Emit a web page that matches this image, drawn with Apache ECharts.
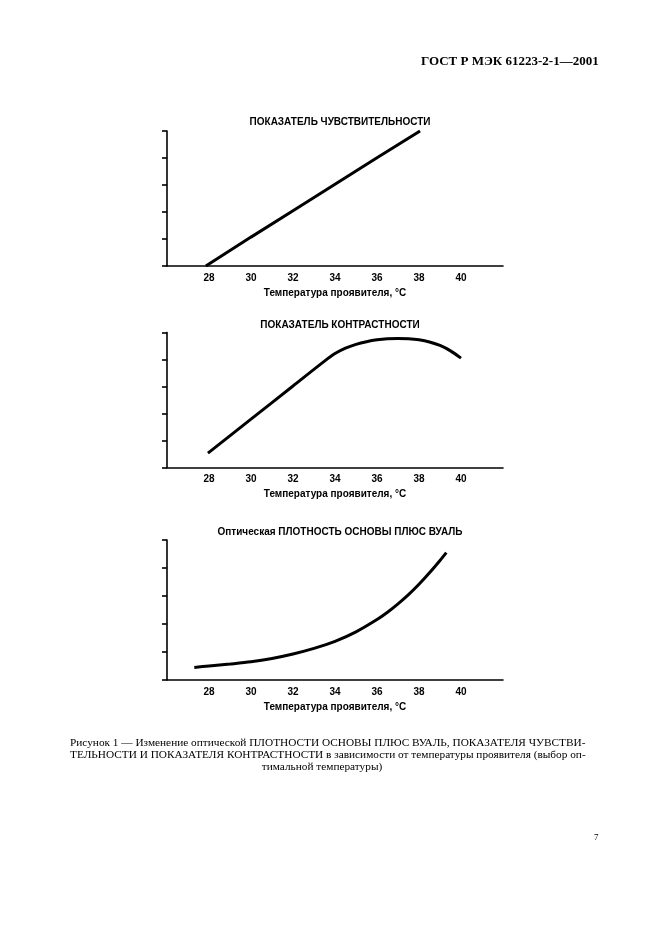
<!DOCTYPE html>
<html><head><meta charset="utf-8">
<script src="https://cdn.jsdelivr.net/npm/echarts@6/dist/echarts.min.js"></script>
<style>html,body{margin:0;padding:0;background:#fff;}#c{width:661px;height:936px;}</style>
</head><body><div id="c"></div>
<script>
// Data (x: temperature °C, y: relative units 0..5)
const xTicks = [26, 28, 30, 32, 34, 36, 38, 40, 42];
const sensX = [27.85, 30, 32, 34, 36, 38.05];
const sensY = [0, 1.07, 2.05, 3.03, 4.01, 5.0];
const contrX = [27.95, 30, 32, 33.5, 34, 34.5, 35, 35.5, 36, 36.5, 37, 37.5, 38, 38.5, 39, 39.5, 40];
const contrY = [0.53, 1.79, 3.02, 3.94, 4.22, 4.42, 4.56, 4.66, 4.73, 4.77, 4.78, 4.77, 4.73, 4.65, 4.52, 4.32, 4.05];
const fogX = [27.3, 28, 29, 30, 31, 32, 33, 34, 35, 36, 36.5, 37, 37.5, 38, 38.5, 39, 39.3];
const fogY = [0.45, 0.5, 0.57, 0.65, 0.77, 0.93, 1.13, 1.38, 1.72, 2.16, 2.42, 2.72, 3.05, 3.42, 3.83, 4.27, 4.55];
const titles = ['ПОКАЗАТЕЛЬ ЧУВСТВИТЕЛЬНОСТИ', 'ПОКАЗАТЕЛЬ КОНТРАСТНОСТИ', 'Оптическая ПЛОТНОСТЬ ОСНОВЫ ПЛЮС ВУАЛЬ'];
const xName = 'Температура проявителя, °C';
const header = 'ГОСТ Р МЭК 61223-2-1—2001';
const caption = [
  'Рисунок 1 — Изменение оптической ПЛОТНОСТИ ОСНОВЫ ПЛЮС ВУАЛЬ, ПОКАЗАТЕЛЯ ЧУВСТВИ-',
  'ТЕЛЬНОСТИ И ПОКАЗАТЕЛЯ КОНТРАСТНОСТИ в зависимости от температуры проявителя (выбор оп-',
  'тимальной температуры)'
];
const pageNo = '7';

const zip = (a, b) => a.map((v, i) => [v, b[i]]);
const seriesData = [zip(sensX, sensY), zip(contrX, contrY), zip(fogX, fogY)];

const grids = [
  {left: 167, top: 131, width: 336, height: 135},
  {left: 167, top: 332.5, width: 336, height: 135},
  {left: 167, top: 540, width: 336, height: 140}
];
const titleTops = [112, 315.5, 522];
const sans = 'Liberation Sans';
const serif = 'Liberation Serif';

const option = {
  backgroundColor: '#fff',
  animation: false,
  title: titles.map((t, i) => ({
    text: t, left: 335, top: titleTops[i], textAlign: 'center',
    textStyle: {fontFamily: sans, fontSize: 10, fontWeight: 'bold', color: '#000'}
  })),
  grid: grids,
  xAxis: grids.map((g, i) => ({
    type: 'value', gridIndex: i, min: 26, max: 42, interval: 2,
    axisLine: {show: true, lineStyle: {color: '#000', width: 1.6}},
    axisTick: {show: false}, splitLine: {show: false},
    axisLabel: {
      margin: 7, fontFamily: sans, fontSize: 10, fontWeight: 'bold', color: '#000',
      formatter: v => (v === xTicks[0] || v === xTicks[xTicks.length - 1]) ? '' : String(v)
    },
    name: xName, nameLocation: 'middle', nameGap: 22,
    nameTextStyle: {fontFamily: sans, fontSize: 10, fontWeight: 'bold', color: '#000'}
  })),
  yAxis: grids.map((g, i) => ({
    type: 'value', gridIndex: i, min: 0, max: 5, interval: 1,
    axisLine: {show: true, lineStyle: {color: '#000', width: 1.6}},
    axisTick: {show: true, inside: false, length: 5, lineStyle: {color: '#000', width: 1.6}},
    axisLabel: {show: false}, splitLine: {show: false}
  })),
  series: seriesData.map((d, i) => ({
    type: 'line', xAxisIndex: i, yAxisIndex: i, data: d,
    smooth: i === 0 ? false : 0.3, showSymbol: false, symbol: 'none',
    lineStyle: {color: '#000', width: 3}
  })),
  graphic: [
    {type: 'text', left: 421, top: 55, style: {text: header, fontFamily: serif, fontSize: 13, fontWeight: 'bold', fill: '#000'}},
    {type: 'text', left: 70, top: 738, style: {text: caption[0], fontFamily: serif, fontSize: 11.3, fill: '#000'}},
    {type: 'text', left: 70, top: 750, style: {text: caption[1], fontFamily: serif, fontSize: 11.3, fill: '#000'}},
    {type: 'text', x: 322, y: 762, style: {text: caption[2], fontFamily: serif, fontSize: 11.3, fill: '#000', align: 'center'}},
    {type: 'text', left: 594, top: 833, style: {text: pageNo, fontFamily: serif, fontSize: 9, fill: '#000'}}
  ]
};
const chart = echarts.init(document.getElementById('c'), null, {renderer: 'canvas'});
chart.setOption(option);
</script></body></html>
